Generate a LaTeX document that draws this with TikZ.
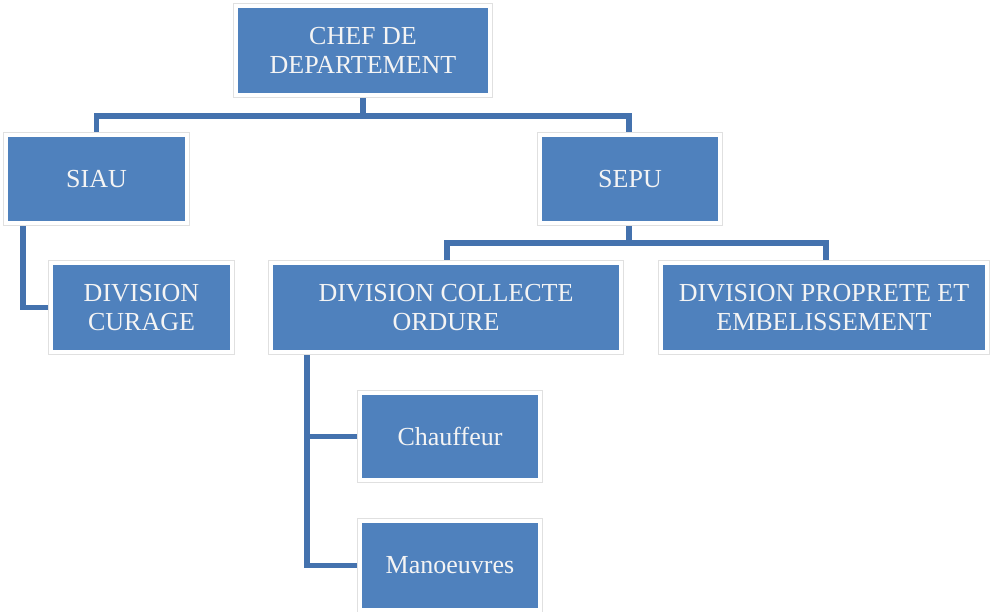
\documentclass[tikz,border=0pt]{standalone}
\usepackage{fontspec}
\setmainfont{Liberation Serif}
\usetikzlibrary{backgrounds}
\definecolor{boxblue}{HTML}{4F81BD}
\definecolor{connblue}{HTML}{4472AE}
\definecolor{txtwhite}{HTML}{F4F4F4}
\tikzset{
  orgbox/.style={rectangle, fill=boxblue, draw=white, line width=4pt,
    preaction={draw=black!12, line width=6pt},
    inner sep=0pt, align=center, text=txtwhite,
    font=\fontsize{26}{29}\selectfont},
  conn/.style={draw=connblue, line width=5.5pt}
}
\begin{document}
\begin{tikzpicture}[x=1pt,y=-1pt]
\useasboundingbox (0,0) rectangle (990,612);
\node[orgbox, minimum width=254pt, minimum height=89pt] (chef) at (363,50.5) {CHEF DE\\DEPARTEMENT};
\node[orgbox, minimum width=181pt, minimum height=88pt] (siau) at (96.5,179) {SIAU};
\node[orgbox, minimum width=180pt, minimum height=88pt] (sepu) at (630,179) {SEPU};
\node[orgbox, minimum width=181pt, minimum height=89pt] (curage) at (141.5,307.5) {DIVISION\\CURAGE};
\node[orgbox, minimum width=350pt, minimum height=89pt] (collecte) at (446,307.5) {DIVISION COLLECTE\\ORDURE};
\node[orgbox, minimum width=326pt, minimum height=89pt] (proprete) at (824,307.5) {DIVISION PROPRETE ET\\EMBELISSEMENT};
\node[orgbox, minimum width=180pt, minimum height=87pt] (chauffeur) at (450,436.5) {Chauffeur};
\node[orgbox, minimum width=180pt, minimum height=89pt] (manoeuvres) at (450,565.5) {Manoeuvres};
\coordinate (bus1) at (0,116);
\coordinate (bus2) at (0,243);
\coordinate (xsiau) at (23,0);
\coordinate (xcoll) at (307,0);
\coordinate (xcollbus) at (447,0);
\coordinate (xprop) at (826,0);
\coordinate (xsepu) at (629,0);
\begin{scope}[on background layer]
\draw[conn] (chef.south) -- (chef.south |- bus1);
\draw[conn] (chef.south |- bus1) -| (siau.north);
\draw[conn] (chef.south |- bus1) -| (sepu.north -| xsepu);
\draw[conn] (sepu.south -| xsepu) -- (xsepu |- bus2);
\draw[conn] (xsepu |- bus2) -| (collecte.north -| xcollbus);
\draw[conn] (xsepu |- bus2) -| (proprete.north -| xprop);
\draw[conn] (siau.south -| xsiau) |- (curage.west);
\draw[conn] (collecte.south -| xcoll) |- (chauffeur.west);
\draw[conn] (collecte.south -| xcoll) |- (manoeuvres.west);
\end{scope}
\end{tikzpicture}
\end{document}
